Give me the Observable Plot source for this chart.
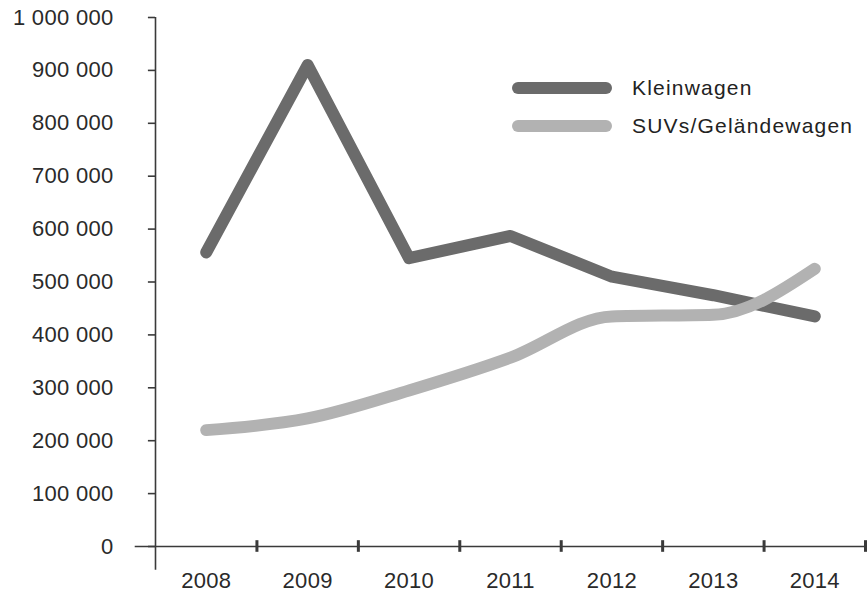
<!DOCTYPE html>
<html><head><meta charset="utf-8">
<script src="https://cdn.jsdelivr.net/npm/d3@7"></script>
<script src="https://cdn.jsdelivr.net/npm/@observablehq/plot@0.6"></script>
<style>
body{margin:0;background:#fff;font-family:"Liberation Sans",Arial,sans-serif}
#wrap{position:relative;width:868px;height:592px}
#wrap svg text{letter-spacing:0.3px}
.leg{position:absolute;left:512px;display:flex;align-items:center;font-size:21px;letter-spacing:1.2px;color:#222;height:24px}
.sw{width:100px;height:12px;border-radius:6px;margin-right:20px}
</style></head>
<body><div id="wrap"></div>
<script>
const years = [2008, 2009, 2010, 2011, 2012, 2013, 2014];
const kleinwagen = [556000, 910000, 545000, 587000, 510000, 475000, 435000];
const suvs = [220000, 242000, 295000, 357000, 435000, 438000, 525000];
const yTicks = [0, 100000, 200000, 300000, 400000, 500000, 600000, 700000, 800000, 900000, 1000000];
const xBoundaries = [2008.5, 2009.5, 2010.5, 2011.5, 2012.5, 2013.5, 2014.5];
const seriesNames = ["Kleinwagen", "SUVs/Geländewagen"];
const colors = ["#6b6b6b", "#b2b2b2"];

const fmt = d3.formatLocale({decimal: ",", thousands: " ", grouping: [3], currency: ["", ""]}).format(",d");
const kRows = years.map((y, i) => ({year: y, value: kleinwagen[i]}));
const sRows = years.map((y, i) => ({year: y, value: suvs[i]}));

const chart = Plot.plot({
  width: 868, height: 592,
  marginLeft: 155, marginRight: 3, marginTop: 17, marginBottom: 46,
  style: {fontFamily: '"Liberation Sans", Arial, sans-serif', background: "#fff"},
  x: {domain: [2007.5, 2014.5], axis: null},
  y: {domain: [0, 1000000], axis: null},
  marks: [
    Plot.ruleY([0], {x1: 2007.3, x2: 2014.5, stroke: "#3a3a3a", strokeWidth: 1.6}),
    Plot.ruleX([2007.5], {y1: -45000, y2: 1000000, stroke: "#3a3a3a", strokeWidth: 1.6}),
    Plot.ruleY(yTicks, {y: d => d, x1: 2007.43, x2: 2007.5, stroke: "#3a3a3a", strokeWidth: 1.6}),
    Plot.ruleX(xBoundaries, {x: d => d, y1: -11000, y2: 11000, stroke: "#3a3a3a", strokeWidth: 3}),
    Plot.text(yTicks, {x: 2007.5, y: d => d, text: d => fmt(d), textAnchor: "end", dx: -42, fontSize: 22, fill: "#2a2a2a"}),
    Plot.text(years, {x: d => d, y: 0, dy: 34, text: d => String(d), fontSize: 22, fill: "#2a2a2a"}),
    Plot.line(kRows, {x: "year", y: "value", stroke: colors[0], strokeWidth: 12, strokeLinecap: "round", strokeLinejoin: "round"}),
    Plot.line(sRows, {x: "year", y: "value", stroke: colors[1], strokeWidth: 12, curve: "monotone-x", strokeLinecap: "round", strokeLinejoin: "round"})
  ]
});
const wrap = document.getElementById("wrap");
wrap.appendChild(chart);
seriesNames.forEach((name, i) => {
  const d = document.createElement("div");
  d.className = "leg";
  d.style.top = (76 + i * 38) + "px";
  d.innerHTML = `<span class="sw" style="background:${colors[i]}"></span><span>${name}</span>`;
  wrap.appendChild(d);
});
</script>
</body></html>
